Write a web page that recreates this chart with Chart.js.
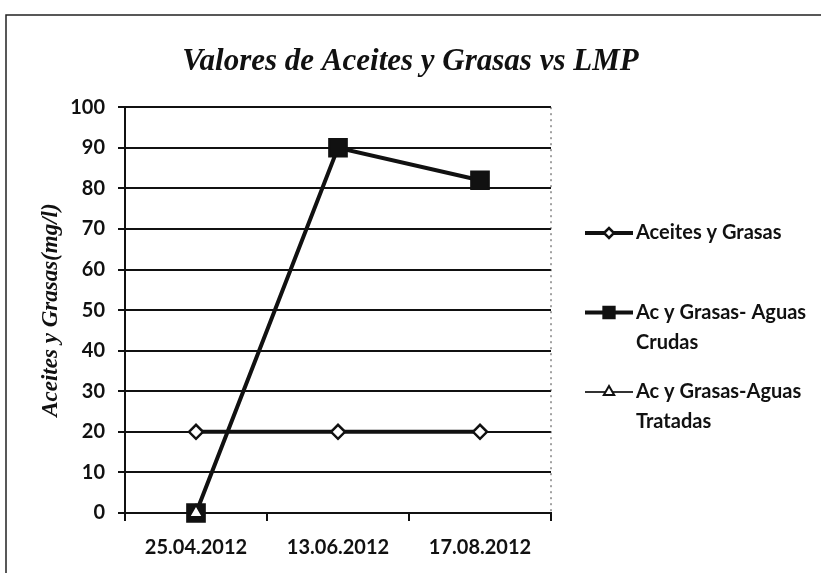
<!DOCTYPE html>
<html>
<head>
<meta charset="utf-8">
<script src="https://cdn.jsdelivr.net/npm/chart.js@4.4.1/dist/chart.umd.min.js"></script>
<style>
  html, body { margin: 0; padding: 0; background: #fff; }
  #wrap { width: 821px; height: 573px; position: relative; }
</style>
</head>
<body>
<div id="wrap"><canvas id="c" width="821" height="573"></canvas></div>
<script>
// Sampling dates
const categories = ["25.04.2012", "13.06.2012", "17.08.2012"];

// Aceites y Grasas (mg/l)
const lmpValues = [20, 20, 20];          // límite máximo permisible
const crudasValues = [0, 90, 82];        // aguas crudas
const tratadasValues = [0, null, null];  // aguas tratadas

// Legend text, one entry per series (wrapped lines)
const legendLabels = [
  ["Aceites y Grasas"],
  ["Ac y Grasas- Aguas", "Crudas"],
  ["Ac y Grasas-Aguas", "Tratadas"]
];

const yTicks = { min: 0, max: 100, step: 10 };

const INK = "#111";
const tickFont = { family: "Lato, 'Open Sans', sans-serif", size: 20, weight: "bold" };

// Frame, dotted right edge of the plot and the wrapped legend
const decorations = {
  id: "decorations",
  afterDraw(chart) {
    const ctx = chart.ctx;
    const area = chart.chartArea;
    ctx.save();
    // outer frame (left and top edges)
    ctx.strokeStyle = "#222";
    ctx.lineWidth = 1.5;
    ctx.beginPath();
    ctx.moveTo(6, 573);
    ctx.lineTo(6, 15);
    ctx.lineTo(821, 15);
    ctx.stroke();

    // dotted right edge of plot
    ctx.strokeStyle = "#444";
    ctx.lineWidth = 1;
    ctx.setLineDash([2, 4]);
    ctx.beginPath();
    ctx.moveTo(area.right, area.top);
    ctx.lineTo(area.right, area.bottom);
    ctx.stroke();
    ctx.setLineDash([]);

    // legend
    const x0 = 585, x1 = 633, tx = 636;
    ctx.textBaseline = "middle";
    ctx.textAlign = "left";
    chart.data.datasets.forEach((ds, i) => {
      const y = 233 + i * 79.5;
      ctx.strokeStyle = ds.borderColor;
      ctx.lineWidth = ds.borderWidth;
      ctx.beginPath();
      ctx.moveTo(x0, y);
      ctx.lineTo(x1, y);
      ctx.stroke();
      ctx.fillStyle = ds.pointBackgroundColor;
      ctx.strokeStyle = ds.pointBorderColor;
      ctx.lineWidth = ds.pointBorderWidth;
      Chart.helpers.drawPoint(ctx, {
        pointStyle: ds.pointStyle,
        radius: ds.legendRadius,
        rotation: 0,
        borderWidth: ds.pointBorderWidth
      }, (x0 + x1) / 2, y);
      ctx.fillStyle = INK;
      ctx.font = `bold 20px ${tickFont.family}`;
      legendLabels[i].forEach((line, k) => {
        ctx.fillText(line, tx, y + k * 30);
      });
    });
    ctx.restore();
  }
};

new Chart(document.getElementById("c"), {
  type: "line",
  data: {
    labels: categories,
    datasets: [
      {
        label: legendLabels[0].join(" "),
        data: lmpValues,
        borderColor: INK,
        borderWidth: 4,
        pointStyle: "rectRot",
        pointRadius: 7,
        legendRadius: 5,
        pointBackgroundColor: "#fff",
        pointBorderColor: INK,
        pointBorderWidth: 2.5,
        clip: false,
        order: 2
      },
      {
        label: legendLabels[1].join(" "),
        data: crudasValues,
        borderColor: INK,
        borderWidth: 4,
        pointStyle: "rect",
        pointRadius: 12.5,
        legendRadius: 8,
        pointBackgroundColor: INK,
        pointBorderColor: INK,
        pointBorderWidth: 2,
        clip: false,
        order: 1
      },
      {
        label: legendLabels[2].join(" "),
        data: tratadasValues,
        borderColor: "#333",
        borderWidth: 2,
        pointStyle: "triangle",
        pointRadius: 8,
        legendRadius: 6,
        pointBackgroundColor: "#fff",
        pointBorderColor: INK,
        pointBorderWidth: 2,
        clip: false,
        order: 0
      }
    ]
  },
  options: {
    responsive: false,
    animation: false,
    layout: { padding: 0 },
    plugins: {
      legend: { display: false },
      tooltip: { enabled: false },
      title: {
        display: true,
        text: "Valores de Aceites y Grasas vs LMP",
        color: INK,
        font: { family: "'Liberation Serif', 'DejaVu Serif', serif", size: 31, weight: "bold", style: "italic", lineHeight: 1.2 },
        padding: { top: 43, bottom: 27 }
      }
    },
    scales: {
      x: {
        offset: true,
        grid: {
          offset: true,
          drawOnChartArea: false,
          drawTicks: true,
          tickLength: 8,
          color: INK,
          lineWidth: 2
        },
        border: { display: true, color: INK, width: 2 },
        ticks: { color: INK, font: tickFont, padding: 15, maxRotation: 0 },
        afterFit(scale) { scale.height = 60; }
      },
      y: {
        min: yTicks.min,
        max: yTicks.max,
        grid: { color: INK, lineWidth: 2, tickLength: 7 },
        border: { display: true, color: INK, width: 2 },
        ticks: { stepSize: yTicks.step, color: INK, font: tickFont, padding: 13 },
        title: {
          display: true,
          text: "Aceites y Grasas(mg/l)",
          color: INK,
          font: { family: "'Liberation Serif', 'DejaVu Serif', serif", size: 23, weight: "bold", style: "italic", lineHeight: 1.2 },
          padding: { top: 37, bottom: 0 }
        },
        afterFit(scale) { scale.width = 125; }
      },
      // reserves the space on the right that holds the legend
      legendSpace: {
        type: "linear",
        position: "right",
        display: true,
        grid: { display: false, drawTicks: false },
        border: { display: false },
        ticks: { display: false },
        afterFit(scale) { scale.width = 270; }
      }
    }
  },
  plugins: [decorations]
});
</script>
</body>
</html>
